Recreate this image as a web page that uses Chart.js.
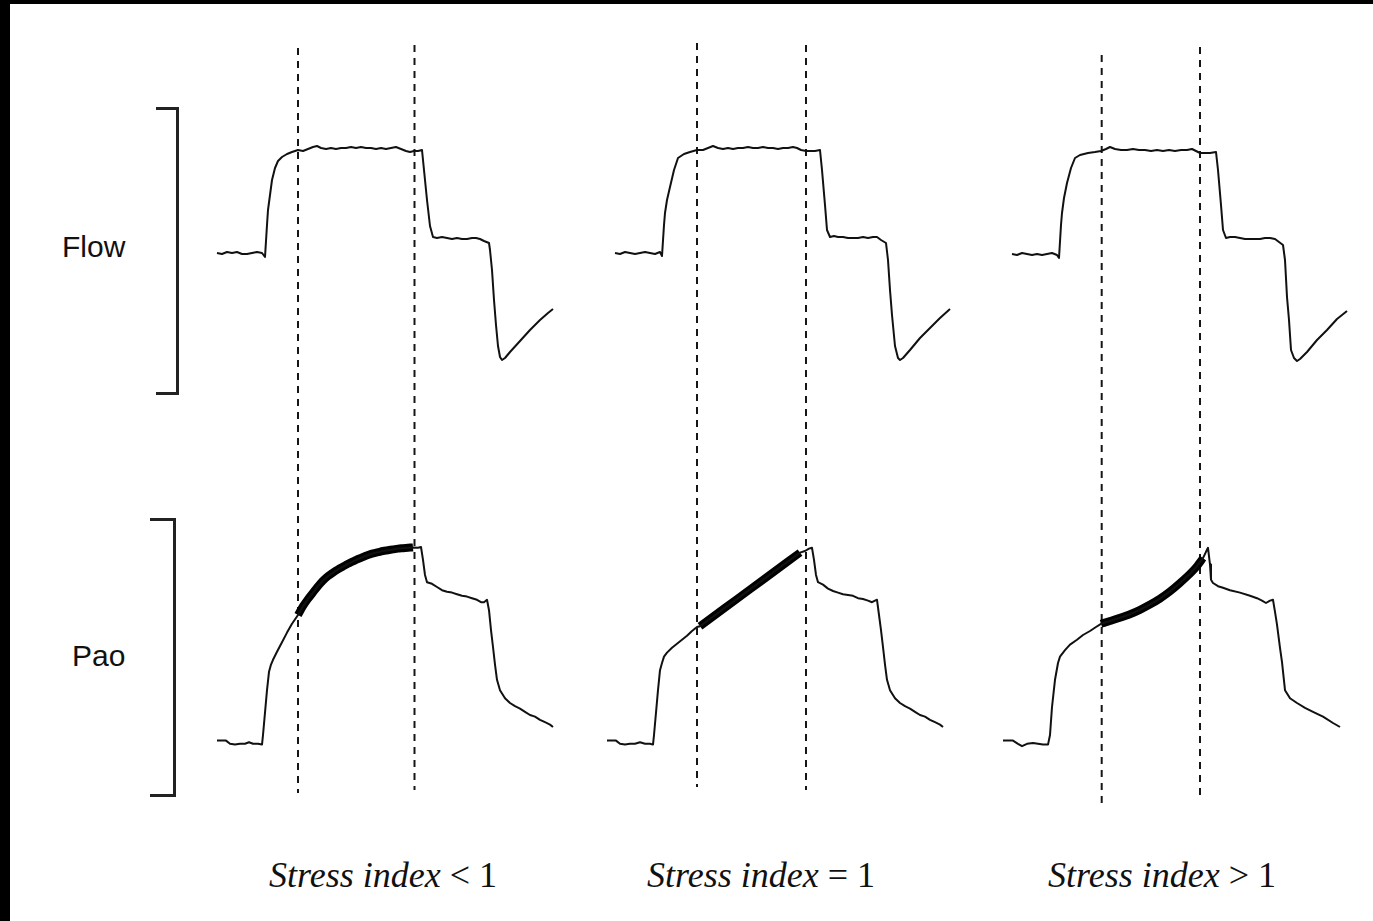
<!DOCTYPE html>
<html>
<head>
<meta charset="utf-8">
<script src="https://cdn.jsdelivr.net/npm/chart.js@4"></script>
<style>
  html, body { margin: 0; padding: 0; background: #fff; }
  #page { position: relative; width: 1373px; height: 921px; overflow: hidden; background: #fff; }
  #page::before { content: ""; position: absolute; left: 0; top: 0; width: 10px; height: 921px; background: #000; }
  #page::after { content: ""; position: absolute; left: 0; top: 0; width: 1373px; height: 4px; background: #000; }
  canvas.panel { position: absolute; top: 23px; }
  .rowlabel { position: absolute; font-family: "Liberation Sans", Arial, sans-serif; font-size: 30px; line-height: 30px; color: #111; white-space: nowrap; }
  .bracket { position: absolute; box-sizing: border-box; border: 3px solid #222; border-left: none; }
  .caption { position: absolute; width: 400px; text-align: center; font-family: "Liberation Serif", "Times New Roman", serif; font-size: 36px; line-height: 36px; color: #111; white-space: nowrap; }
</style>
</head>
<body>
<div id="page">
  <canvas id="c1" class="panel" width="370" height="800" style="left:200px"></canvas>
  <canvas id="c2" class="panel" width="370" height="800" style="left:590px"></canvas>
  <canvas id="c3" class="panel" width="388" height="800" style="left:985px"></canvas>
</div>
<script>
// Row and column labels
const rowLabels = ['Flow', 'Pao'];
const captionIndex = 'Stress index';
const captionRelations = ['< 1', '= 1', '> 1'];

// Time axis, seconds
// Flow, L/min
const flowTime1 = [0.17,0.22,0.27,0.32,0.37,0.42,0.47,0.52,0.57,0.62,0.65,0.67,0.68,0.70,0.72,0.75,0.78,0.82,0.87,0.92,0.98,1.03,1.08,1.13,1.17,1.21,1.26,1.31,1.36,1.41,1.46,1.51,1.56,1.61,1.66,1.71,1.76,1.81,1.86,1.91,1.96,2.01,2.06,2.10,2.14,2.18,2.22,2.24,2.27,2.30,2.33,2.37,2.42,2.47,2.52,2.57,2.62,2.67,2.72,2.76,2.80,2.84,2.89,2.90,2.92,2.94,2.96,2.98,3.00,3.02,3.05,3.10,3.20,3.30,3.40,3.48,3.53];
const flowValues1 = [0,-0.5,0.5,0,0.5,-0.5,-0.5,0,0.5,0,-2,14,21.5,29,36.5,42.5,46,48,49.5,50.5,51.5,51,52,53,53.5,52.5,52,52.5,52,52.5,52.5,53,52.5,53,52.5,52.5,52,52.5,52,52.5,53,52,51,50.5,51,51,51.5,41.5,26.5,13.5,8,7.5,8,7.5,7,7.5,7,7,7.5,7.5,7,6,5,1.5,-8.5,-23.5,-36,-46.5,-52,-53.5,-52.5,-49.5,-44,-38.5,-33.5,-30,-28];

const flowTime2 = [0.25,0.30,0.35,0.40,0.45,0.50,0.55,0.60,0.65,0.70,0.72,0.74,0.75,0.77,0.80,0.84,0.88,0.94,1.00,1.07,1.13,1.18,1.23,1.28,1.33,1.38,1.43,1.48,1.53,1.58,1.63,1.68,1.73,1.78,1.83,1.88,1.93,1.98,2.03,2.07,2.11,2.16,2.21,2.25,2.30,2.32,2.35,2.37,2.40,2.44,2.48,2.53,2.58,2.63,2.68,2.73,2.78,2.83,2.87,2.91,2.96,2.98,3.00,3.02,3.05,3.08,3.10,3.13,3.20,3.30,3.40,3.50,3.60];
const flowValues2 = [0,-0.5,0.5,0,-0.5,0,0.5,0,-0.5,0.5,-1.5,14,20,26.5,33,41.5,47.5,49.5,50.5,51.5,51.5,52.5,53.5,52.5,52,52.5,52,52.5,52.5,53,52.5,52.5,53,52.5,52.5,52,52.5,52.5,53,52.5,51.5,51,51,51,51.5,41.5,24,11.5,8,8.5,8,8,7.5,7.5,7.5,8,7.5,8,8,6.5,5,-3.5,-18.5,-31,-46.5,-52.5,-53.5,-52.5,-48.5,-42.5,-37.5,-32.5,-28];

const flowTime3 = [0.27,0.32,0.37,0.42,0.47,0.52,0.57,0.62,0.67,0.72,0.74,0.76,0.77,0.79,0.82,0.86,0.90,0.95,1.03,1.10,1.16,1.21,1.25,1.30,1.36,1.42,1.48,1.54,1.60,1.66,1.72,1.78,1.84,1.90,1.96,2.02,2.07,2.11,2.15,2.20,2.25,2.31,2.33,2.36,2.38,2.41,2.45,2.50,2.55,2.60,2.65,2.70,2.75,2.80,2.85,2.90,2.94,2.98,3.00,3.02,3.04,3.06,3.09,3.12,3.15,3.22,3.32,3.42,3.52,3.62];
const flowValues3 = [-0.5,-1,0,-0.5,-1,-0.5,-1,-0.5,0,-1,-2.5,14,20,27.5,35,42.5,47.5,49,50,50.5,51,52,53,52,51.5,51.5,52,51.5,51.5,51,51.5,51,51.5,51,51.5,51.5,52,51,50,50,50,50.5,41.5,24,11.5,7.5,8,8,7.5,7,7,7,7,7.5,7.5,7,5.5,4,-3.5,-22,-33.5,-48.5,-52.5,-54,-53,-49.5,-43.5,-38.5,-33,-29];

// Airway opening pressure, cmH2O
const paoTime1 = [0.17,0.22,0.26,0.30,0.35,0.40,0.45,0.49,0.53,0.58,0.62,0.63,0.65,0.67,0.69,0.71,0.73,0.77,0.82,0.87,0.92,0.98,1.03,1.08,1.13,1.18,1.23,1.28,1.33,1.38,1.43,1.48,1.53,1.58,1.63,1.68,1.73,1.78,1.83,1.88,1.93,1.98,2.03,2.08,2.13,2.18,2.21,2.23,2.25,2.27,2.32,2.37,2.42,2.47,2.52,2.57,2.62,2.67,2.72,2.77,2.81,2.84,2.87,2.89,2.91,2.93,2.95,2.97,3.00,3.05,3.10,3.15,3.20,3.25,3.30,3.35,3.40,3.45,3.50,3.53];
const paoValues1 = [5.3,5.3,5.3,4.9,4.8,4.9,4.9,5.1,4.9,4.9,4.8,6,8.8,11.6,13.9,14.8,15.4,16.4,17.6,18.8,19.9,21,22.1,23,23.8,24.6,25.3,25.85,26.3,26.7,27.05,27.4,27.7,28,28.25,28.5,28.7,28.85,29,29.1,29.2,29.3,29.35,29.4,29.45,29.4,29.5,27.9,26,25.1,24.9,24.5,24.1,23.9,23.8,23.6,23.4,23.3,23.1,22.9,22.6,22.6,22.9,21.6,19.1,17,14.8,12.9,11.6,10.6,10,9.6,9.3,8.9,8.5,8.3,7.9,7.6,7.3,7];

const paoTime2 = [0.17,0.22,0.26,0.30,0.35,0.40,0.45,0.50,0.55,0.60,0.63,0.64,0.66,0.68,0.70,0.72,0.74,0.77,0.82,0.87,0.92,0.97,1.02,1.07,1.10,1.35,1.60,1.85,2.10,2.15,2.19,2.22,2.24,2.26,2.28,2.33,2.38,2.43,2.48,2.53,2.58,2.63,2.68,2.73,2.78,2.82,2.85,2.87,2.89,2.91,2.93,2.95,2.97,3.00,3.05,3.10,3.15,3.20,3.25,3.30,3.35,3.40,3.45,3.50,3.53];
const paoValues2 = [5.3,5.3,5.3,4.9,4.8,4.9,4.9,5.1,4.9,4.9,4.8,6,8.8,11.6,14.1,15,15.8,16.3,16.9,17.4,17.9,18.4,19,19.5,19.6,21.9,24.2,26.5,28.8,29,29.3,29.4,27.9,26,25.1,24.8,24.3,24,23.8,23.6,23.5,23.4,23.1,23,22.8,22.6,22.8,22.9,21,19.1,17,14.8,12.9,11.6,10.6,10,9.6,9.3,8.9,8.5,8.3,7.9,7.6,7.3,7];

const paoTime3 = [0.18,0.23,0.28,0.33,0.37,0.42,0.48,0.53,0.58,0.63,0.65,0.67,0.70,0.73,0.75,0.80,0.85,0.92,0.98,1.05,1.11,1.16,1.25,1.35,1.45,1.55,1.65,1.75,1.85,1.95,2.05,2.12,2.18,2.21,2.23,2.25,2.26,2.28,2.33,2.38,2.45,2.55,2.65,2.72,2.77,2.81,2.85,2.88,2.90,2.92,2.95,2.97,3.00,3.05,3.12,3.20,3.28,3.38,3.48,3.55];
const paoValues3 = [5.3,5.3,5.3,4.9,4.6,4.9,5,4.9,4.8,4.8,6,9.5,12.9,15,15.8,16.6,17.3,17.9,18.5,19,19.5,19.9,20.25,20.65,21.1,21.65,22.3,23.05,23.95,25,26.15,27.1,28.1,28.9,29.4,27.3,25.4,25,24.6,24.4,24.1,23.8,23.4,23.1,22.8,22.5,22.8,22.9,21.4,19.8,16.9,15.1,11.6,10.6,10,9.4,8.9,8.3,7.5,7];

// Stretch-analysis window on the pressure trace (s) and the dashed time markers (s)
const fitWindow1 = [0.98, 2.13];
const fitWindow2 = [1.10, 2.10];
const fitWindow3 = [1.16, 2.18];
const markerTimes1 = [0.98, 2.145];
const markerTimes2 = [1.07, 2.16];
const markerTimes3 = [1.167, 2.15];

const toPoints = (ts, vs) => ts.map((t, i) => ({ x: t, y: vs[i] }));
const withinWindow = (pts, w) => pts.filter(p => p.x >= w[0] - 1e-9 && p.x <= w[1] + 1e-9);

// Dashed vertical markers, drawn at the marker times through the x scale
const timeMarkers = {
  id: 'timeMarkers',
  beforeDatasetsDraw(chart, args, opts) {
    const ctx = chart.ctx;
    const xs = chart.scales.x;
    ctx.save();
    ctx.strokeStyle = '#161616';
    ctx.lineWidth = 2;
    ctx.setLineDash([7, 6]);
    opts.times.forEach((t, i) => {
      const px = xs.getPixelForValue(t);
      const [y0, y1] = opts.spans[i];
      ctx.beginPath();
      ctx.moveTo(px, y0);
      ctx.lineTo(px, y1);
      ctx.stroke();
    });
    ctx.restore();
  }
};

function drawColumn(id, flowT, flowV, paoT, paoV, win, markers, spans, xMax) {
  const paoPts = toPoints(paoT, paoV);
  const trace = { borderColor: '#111', borderWidth: 2, pointRadius: 0, tension: 0, fill: false, borderJoinStyle: 'round' };
  new Chart(document.getElementById(id), {
    type: 'line',
    data: {
      datasets: [
        Object.assign({ label: rowLabels[0], data: toPoints(flowT, flowV), yAxisID: 'yFlow' }, trace),
        Object.assign({ label: rowLabels[1], data: paoPts, yAxisID: 'yPao' }, trace),
        Object.assign({}, trace, { label: rowLabels[1] + ' fit', data: withinWindow(paoPts, win), yAxisID: 'yPao', borderWidth: 8, borderColor: '#000', borderCapStyle: 'butt', cubicInterpolationMode: 'monotone' })
      ]
    },
    options: {
      responsive: false,
      animation: false,
      events: [],
      layout: { padding: 0 },
      scales: {
        x: { type: 'linear', display: false, min: 0, max: xMax },
        yFlow: { type: 'linear', display: false, min: -285, max: 115 },
        yPao: { type: 'linear', display: false, min: -5, max: 95 }
      },
      plugins: {
        legend: { display: false },
        tooltip: { enabled: false },
        timeMarkers: { times: markers, spans: spans }
      }
    },
    plugins: [timeMarkers]
  });
}

drawColumn('c1', flowTime1, flowValues1, paoTime1, paoValues1, fitWindow1, markerTimes1, [[25, 770], [22, 767]], 3.70);
drawColumn('c2', flowTime2, flowValues2, paoTime2, paoValues2, fitWindow2, markerTimes2, [[20, 764], [22, 767]], 3.70);
drawColumn('c3', flowTime3, flowValues3, paoTime3, paoValues3, fitWindow3, markerTimes3, [[32, 780], [24, 777]], 3.88);

// Row labels with their brackets, and the captions under each column
const page = document.getElementById('page');
function addDiv(cls, style, html) {
  const d = document.createElement('div');
  d.className = cls;
  Object.assign(d.style, style);
  if (html !== undefined) d.innerHTML = html;
  page.appendChild(d);
}
addDiv('rowlabel', { left: '62px', top: '232px' }, rowLabels[0]);
addDiv('rowlabel', { left: '72px', top: '641px' }, rowLabels[1]);
addDiv('bracket', { left: '156px', top: '107px', width: '23px', height: '288px' });
addDiv('bracket', { left: '150px', top: '518px', width: '26px', height: '279px' });
const captionCenters = [383, 761, 1162];
captionRelations.forEach((rel, i) => {
  addDiv('caption', { left: (captionCenters[i] - 200) + 'px', top: '857px' }, '<i>' + captionIndex + '</i> ' + rel.replace('<', '&lt;').replace('>', '&gt;'));
});
</script>
</body>
</html>
